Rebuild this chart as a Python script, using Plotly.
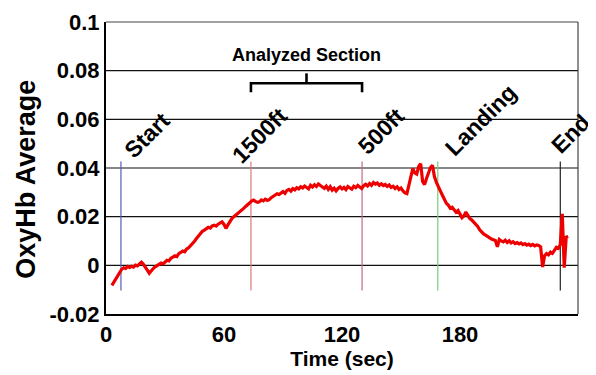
import plotly.graph_objects as go

# ---- data ----
time_sec = list(range(3, 236))
oxyhb_milli = [
    -8.2, -6.8, -5.2, -4.1, -2.6, -1.6, -1.0, -1.3, -0.5, -0.9,
    -0.4, -0.7, 0.1, -0.2, 0.6, 1.3, 0.4, -0.6, -2.0, -3.3,
    -2.2, -1.3, -0.6, -0.2, 0.5, 0.9, 0.6, 1.6, 2.1, 1.8,
    2.9, 3.4, 3.9, 3.6, 4.8, 5.3, 5.9, 5.6, 6.7, 7.2,
    8.0, 8.8, 9.9, 11.0, 12.1, 12.9, 14.0, 14.5, 14.9, 15.6,
    15.3, 16.2, 16.5, 16.1, 16.9, 17.5, 17.9, 16.8, 15.2, 16.6,
    18.1, 19.2, 20.0, 20.6, 21.4, 21.9, 22.8, 23.4, 24.2, 25.1,
    25.6, 26.4, 26.8, 26.3, 25.9, 26.1, 26.9, 26.5, 27.2, 26.7,
    27.0, 27.8, 28.4, 29.0, 29.4, 29.1, 29.9, 30.3, 29.6, 30.8,
    31.2, 30.5, 31.5, 31.0, 31.9, 31.4, 32.3, 31.8, 32.6, 32.0,
    31.4, 32.9, 32.2, 33.1, 32.4, 33.4, 32.9, 32.1, 31.6, 32.5,
    31.2, 32.3, 30.9, 31.7, 30.6, 31.6, 32.2, 31.4, 32.0, 31.1,
    32.4, 31.8, 31.3, 32.5, 31.9, 32.8, 32.1, 31.6, 32.7, 33.3,
    32.6, 33.6, 32.9, 34.0, 33.4, 33.8, 32.9, 33.5, 32.8, 33.2,
    32.4, 33.0, 32.0, 32.5, 31.6, 32.3, 31.2, 31.8, 30.6, 29.8,
    29.5, 32.5, 36.4, 39.7, 38.0, 37.5, 40.6, 41.8, 34.5, 33.2,
    35.8, 37.9, 40.2, 41.1, 36.5, 34.1, 31.9, 30.6, 28.9, 27.3,
    25.6, 24.8, 23.5, 23.9, 22.6, 21.8, 22.5, 20.7, 19.6, 20.3,
    21.9, 20.5, 19.2, 18.6, 17.8, 17.1, 16.0, 14.6, 13.5, 12.9,
    12.4, 11.8, 11.5, 10.8, 10.5, 10.2, 7.6, 10.6, 10.0, 9.6,
    10.3, 9.4, 10.1, 9.2, 9.7, 8.9, 9.3, 8.8, 9.2, 8.5,
    8.9, 8.3, 8.7, 8.1, 8.6, 8.0, 8.4, 8.2, 7.6, -0.7,
    3.9, 4.8, 4.3, 5.4, 4.9, 6.2, 7.4, 7.0, 8.5, 21.2,
    -1.0, 11.6, 11.9,
]
oxyhb = [v / 1000.0 for v in oxyhb_milli]

event_labels = ["Start", "1500ft", "500ft", "Landing", "End"]
event_times = [7.6, 73.7, 130.2, 168.7, 231.0]
event_colors = ["#5a5ab8", "#e07a7a", "#c06a88", "#77cc77", "#222222"]
event_line_low = -0.0103
event_line_high = 0.0427

section_label = "Analyzed Section"
section_start, section_end = 73.7, 130.2

x_ticks = [0, 60, 120, 180, 240]
y_ticks = [-0.02, 0, 0.02, 0.04, 0.06, 0.08, 0.1]
y_tick_text = ["-0.02", "0", "0.02", "0.04", "0.06", "0.08", "0.1"]
grid_levels = [0, 0.02, 0.04, 0.06, 0.08]

FONT = "Liberation Sans, Arial, sans-serif"

fig = go.Figure()
fig.add_trace(go.Scatter(
    x=time_sec, y=oxyhb, mode="lines",
    line=dict(color="#ee0000", width=3.2),
    showlegend=False, hoverinfo="skip",
))

shapes = []
for g in grid_levels:
    shapes.append(dict(type="line", xref="paper", yref="y", x0=0, x1=1, y0=g, y1=g,
                       line=dict(color="#111111", width=1.2), layer="below"))
for t, c in zip(event_times, event_colors):
    shapes.append(dict(type="line", xref="x", yref="y", x0=t, x1=t,
                       y0=event_line_low, y1=event_line_high,
                       line=dict(color=c, width=1.2), layer="below"))
# outer box top/right
shapes.append(dict(type="line", xref="paper", yref="paper", x0=0, x1=1, y0=1, y1=1,
                   line=dict(color="#444444", width=1.2)))
shapes.append(dict(type="line", xref="paper", yref="paper", x0=1, x1=1, y0=0, y1=1,
                   line=dict(color="#444444", width=1.2)))
# bracket
mid = (section_start + section_end) / 2
shapes.append(dict(type="path", xref="x", yref="y",
                   path=f"M {section_start},0.0711 L {section_start},0.0748 L {section_end},0.0748 L {section_end},0.0711",
                   line=dict(color="black", width=2.6)))
shapes.append(dict(type="line", xref="x", yref="y", x0=mid, x1=mid, y0=0.0748, y1=0.0789,
                   line=dict(color="black", width=2.6)))

annotations = []
label_shift = [(26.5, 26), (9, 26.5), (19, 30.5), (43, 41.5), (10, 27.5)]
for lab, t, (dx, dy) in zip(event_labels, event_times, label_shift):
    annotations.append(dict(x=t, y=event_line_high, xref="x", yref="y", text=f"<b>{lab}</b>",
                            showarrow=False, textangle=-45, xanchor="center", yanchor="middle",
                            xshift=dx, yshift=dy,
                            font=dict(family=FONT, size=23, color="black")))
annotations.append(dict(x=mid, y=0.0864, xref="x", yref="y", text=f"<b>{section_label}</b>",
                        showarrow=False, xanchor="center", yanchor="middle",
                        font=dict(family=FONT, size=18, color="black")))
annotations.append(dict(x=-0.17, y=0.462, xref="paper", yref="paper", text="<b>OxyHb Average</b>",
                        showarrow=False, textangle=-90, xanchor="center", yanchor="middle",
                        font=dict(family=FONT, size=27, color="black")))

# page body has an 8px default margin, so the figure is sized to fit the 596x375 window
fig.update_layout(
    width=588, height=367,
    margin=dict(l=98, r=18, t=14, b=61),
    paper_bgcolor="white", plot_bgcolor="white",
    shapes=shapes, annotations=annotations,
    font=dict(family=FONT, color="black"),
    xaxis=dict(range=[0, 240], tickvals=x_ticks, ticktext=[f"<b>{v}</b>" for v in x_ticks],
               showgrid=False, zeroline=False, showline=True, linecolor="black", linewidth=2,
               ticks="", automargin=False, tickfont=dict(family=FONT, size=22, color="black"),
               title=dict(text="<b>Time (sec)</b>", font=dict(family=FONT, size=21, color="black"),
                          standoff=2)),
    yaxis=dict(range=[-0.02, 0.1], tickvals=y_ticks, ticktext=[f"<b>{v}</b>" for v in y_tick_text],
               showgrid=False, zeroline=False, showline=True, linecolor="black", linewidth=2,
               ticks="", automargin=False, tickfont=dict(family=FONT, size=22, color="black")),
)

fig.write_html("out.html")
